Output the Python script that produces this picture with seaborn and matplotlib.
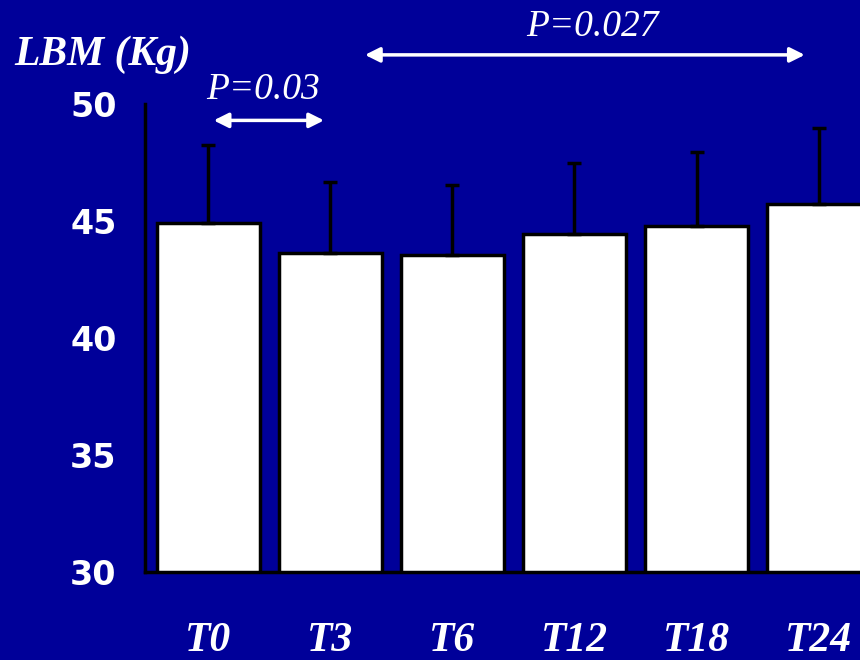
import pandas as pd
import matplotlib.pyplot as plt
import seaborn as sns

# values
timepoints = ["T0", "T3", "T6", "T12", "T18", "T24"]
lbm_mean = [44.9, 43.63, 43.55, 44.44, 44.79, 45.73]
lbm_sd = [3.35, 3.04, 3.0, 3.04, 3.15, 3.24]
y_ticks = [30, 35, 40, 45, 50]

bg = "#000099"
df = pd.DataFrame({"time": timepoints, "lbm": lbm_mean, "sd": lbm_sd})

sns.set_style("white")
fig = plt.figure(figsize=(8.6, 6.6), dpi=100, facecolor=bg)
ax = fig.add_axes([0.1686, 0.1333, 0.8314, 0.7091])
ax.set_facecolor(bg)

sns.barplot(data=df, x="time", y="lbm", color="white", edgecolor="black",
            linewidth=2.5, width=0.85, saturation=1, errorbar=None, ax=ax)

# one-sided (upper) error bars
xpos = list(range(len(timepoints)))
ax.errorbar(xpos, df["lbm"], yerr=[[0] * len(df), df["sd"]], fmt="none",
            ecolor="black", elinewidth=2.5, capsize=5, capthick=2.5, zorder=1)

ax.set_ylim(30, 50)
ax.set_xlim(-0.52, 5.34)
ax.set_yticks(y_ticks)
ax.set_yticklabels([str(t) for t in y_ticks], fontfamily="DejaVu Sans",
                   fontweight="bold", fontsize=24, color="white")
ax.set_xticks(xpos)
ax.set_xticklabels(timepoints, fontfamily="Liberation Serif", fontweight="bold",
                   fontstyle="italic", fontsize=30, color="white")
ax.tick_params(axis="y", direction="out", length=7.5, width=2, color="black", pad=13)
ax.tick_params(axis="x", direction="out", length=3, width=2, color="black", pad=33)
ax.set_xlabel("")
ax.set_ylabel("")

for side in ["top", "right"]:
    ax.spines[side].set_visible(False)
for side in ["left", "bottom"]:
    ax.spines[side].set_color("black")
    ax.spines[side].set_linewidth(2.5)

fig.text(0.017, 0.917, "LBM (Kg)", fontfamily="Liberation Serif", fontweight="bold",
         fontstyle="italic", fontsize=30, color="white", ha="left", va="center")

# significance brackets
arrow = dict(arrowstyle="<|-|>", color="white", lw=2.5, mutation_scale=22)
ax.annotate("", xy=(0.02, 49.3), xytext=(0.97, 49.3), arrowprops=arrow,
            annotation_clip=False)
ax.text(0.45, 50.6, "P=0.03", fontfamily="Liberation Serif", fontstyle="italic",
        fontsize=27, color="white", ha="center", va="center")
ax.annotate("", xy=(1.26, 52.1), xytext=(4.91, 52.1), arrowprops=arrow,
            annotation_clip=False)
ax.text(3.15, 53.3, "P=0.027", fontfamily="Liberation Serif", fontstyle="italic",
        fontsize=27, color="white", ha="center", va="center")

plt.savefig("out.png", dpi=100, facecolor=bg)
plt.close()
